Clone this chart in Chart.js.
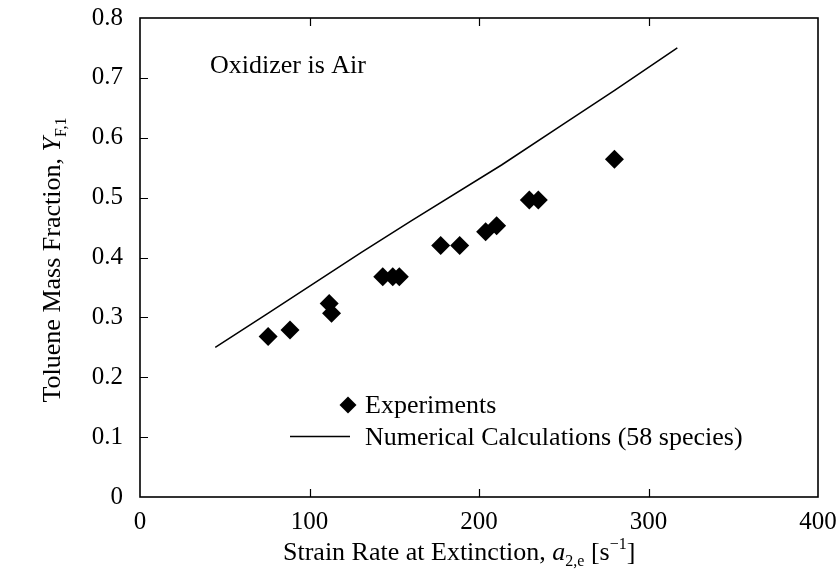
<!DOCTYPE html>
<html>
<head>
<meta charset="utf-8">
<script src="https://cdn.jsdelivr.net/npm/chart.js@4.4.0/dist/chart.umd.min.js"></script>
<style>
  html, body { margin: 0; padding: 0; background: #fff; }
  #wrap { width: 839px; height: 576px; }
</style>
</head>
<body>
<div id="wrap"><canvas id="chart" width="839" height="576"></canvas></div>
<script>
// measured extinction points
const expStrain = [75.6, 88.5, 111.6, 113.0, 143.2, 149.1, 153.0, 177.4, 188.6, 203.9, 210.4, 229.7, 235.0, 279.9];
const expFraction = [0.268, 0.279, 0.323, 0.307, 0.368, 0.368, 0.368, 0.420, 0.420, 0.443, 0.453, 0.496, 0.496, 0.564];

// computed extinction curve (58 species mechanism)
const calcStrain = [44.4, 75, 130.4, 160, 213.3, 250, 280, 317];
const calcFraction = [0.25, 0.306, 0.408, 0.461, 0.5545, 0.623, 0.679, 0.75];

const xTicks = [0, 100, 200, 300, 400];
const yTicks = [0, 0.1, 0.2, 0.3, 0.4, 0.5, 0.6, 0.7, 0.8];

const SERIF = '"Liberation Serif", "Times New Roman", serif';

const toPoints = (xs, ys) => xs.map((x, i) => ({ x: x, y: ys[i] }));

// draws a run of text pieces (normal / italic / sub / superscript) starting at x
function drawRich(ctx, parts, x, y) {
    parts.forEach(p => {
        ctx.font = p.font;
        ctx.fillText(p.text, x, y + (p.dy || 0));
        x += ctx.measureText(p.text).width;
    });
    return x;
}
function richWidth(ctx, parts) {
    let w = 0;
    parts.forEach(p => { ctx.font = p.font; w += ctx.measureText(p.text).width; });
    return w;
}

const frame = {
    id: 'frame',
    afterDraw(chart) {
        const ctx = chart.ctx;
        const a = chart.chartArea;
        const sx = chart.scales.x, sy = chart.scales.y;
        ctx.save();
        ctx.strokeStyle = '#000';
        ctx.fillStyle = '#000';
        ctx.lineWidth = 1.6;
        ctx.strokeRect(a.left, a.top, a.right - a.left, a.bottom - a.top);

        // inward ticks: bottom and top on x, left on y
        ctx.lineWidth = 1.2;
        ctx.beginPath();
        xTicks.slice(1, -1).forEach(v => {
            const px = Math.round(sx.getPixelForValue(v)) + 0.5;
            ctx.moveTo(px, a.bottom); ctx.lineTo(px, a.bottom - 8);
            ctx.moveTo(px, a.top); ctx.lineTo(px, a.top + 8);
        });
        yTicks.slice(1, -1).forEach(v => {
            const py = Math.round(sy.getPixelForValue(v)) + 0.5;
            ctx.moveTo(a.left, py); ctx.lineTo(a.left + 8, py);
        });
        ctx.stroke();

        ctx.textBaseline = 'alphabetic';
        ctx.textAlign = 'left';

        // annotation
        ctx.font = '26px ' + SERIF;
        ctx.fillText('Oxidizer is Air', 210, 73);

        // legend
        const dia = chart.data.datasets[0];
        const lx = 348, ly = 405, r = 8.5;
        ctx.fillStyle = dia.backgroundColor;
        ctx.beginPath();
        ctx.moveTo(lx - r, ly); ctx.lineTo(lx, ly - r);
        ctx.lineTo(lx + r, ly); ctx.lineTo(lx, ly + r);
        ctx.closePath();
        ctx.fill();
        ctx.fillStyle = '#000';
        ctx.fillText(dia.label, 365, 413);

        const ln = chart.data.datasets[1];
        ctx.strokeStyle = ln.borderColor;
        ctx.lineWidth = ln.borderWidth;
        ctx.beginPath();
        ctx.moveTo(290, 436.5); ctx.lineTo(350, 436.5);
        ctx.stroke();
        ctx.fillText(ln.label, 365, 445);

        // x axis title
        const f = '26px ' + SERIF, fi = 'italic 26px ' + SERIF, fs = '16px ' + SERIF;
        const xParts = [
            { text: 'Strain Rate at Extinction, ', font: f },
            { text: 'a', font: fi },
            { text: '2,e', font: fs, dy: 6 },
            { text: ' [s', font: f },
            { text: '\u22121', font: fs, dy: -11 },
            { text: ']', font: f }
        ];
        drawRich(ctx, xParts, 283, 560);

        // y axis title, rotated
        const yParts = [
            { text: 'Toluene Mass Fraction, ', font: f },
            { text: 'Y', font: fi },
            { text: 'F,1', font: fs, dy: 6 }
        ];
        const yw = richWidth(ctx, yParts);
        ctx.translate(60, 260);
        ctx.rotate(-Math.PI / 2);
        drawRich(ctx, yParts, -yw / 2, 0);
        ctx.restore();
    }
};

new Chart(document.getElementById('chart'), {
    type: 'scatter',
    data: {
        datasets: [
            {
                label: 'Experiments',
                data: toPoints(expStrain, expFraction),
                pointStyle: 'rectRot',
                pointRadius: 9.5,
                pointHoverRadius: 9.5,
                backgroundColor: '#000',
                borderColor: '#000',
                borderWidth: 0
            },
            {
                label: 'Numerical Calculations (58 species)',
                data: toPoints(calcStrain, calcFraction),
                showLine: true,
                pointRadius: 0,
                borderColor: '#000',
                borderWidth: 1.5,
                tension: 0
            }
        ]
    },
    options: {
        responsive: false,
        animation: false,
        devicePixelRatio: 1,
        layout: { padding: { top: 18, right: 21, left: 0, bottom: 0 } },
        plugins: { legend: { display: false }, tooltip: { enabled: false } },
        scales: {
            x: {
                type: 'linear', min: 0, max: 400,
                afterBuildTicks: s => { s.ticks = xTicks.map(v => ({ value: v })); },
                afterFit: s => { s.height = 79; s.paddingLeft = 0; s.paddingRight = 0; },
                grid: { display: false, drawTicks: false },
                border: { display: false },
                ticks: {
                    color: '#000', padding: 10, maxRotation: 0,
                    font: { family: SERIF, size: 25 },
                    callback: v => String(v)
                }
            },
            y: {
                type: 'linear', min: 0, max: 0.8,
                afterBuildTicks: s => { s.ticks = yTicks.map(v => ({ value: v })); },
                afterFit: s => { s.width = 140; s.paddingTop = 0; s.paddingBottom = 0; },
                grid: { display: false, drawTicks: false },
                border: { display: false },
                ticks: {
                    color: '#000', padding: 17,
                    font: { family: SERIF, size: 25 },
                    callback: v => v === 0 ? '0' : v.toFixed(1)
                }
            }
        }
    },
    plugins: [frame]
});
</script>
</body>
</html>
